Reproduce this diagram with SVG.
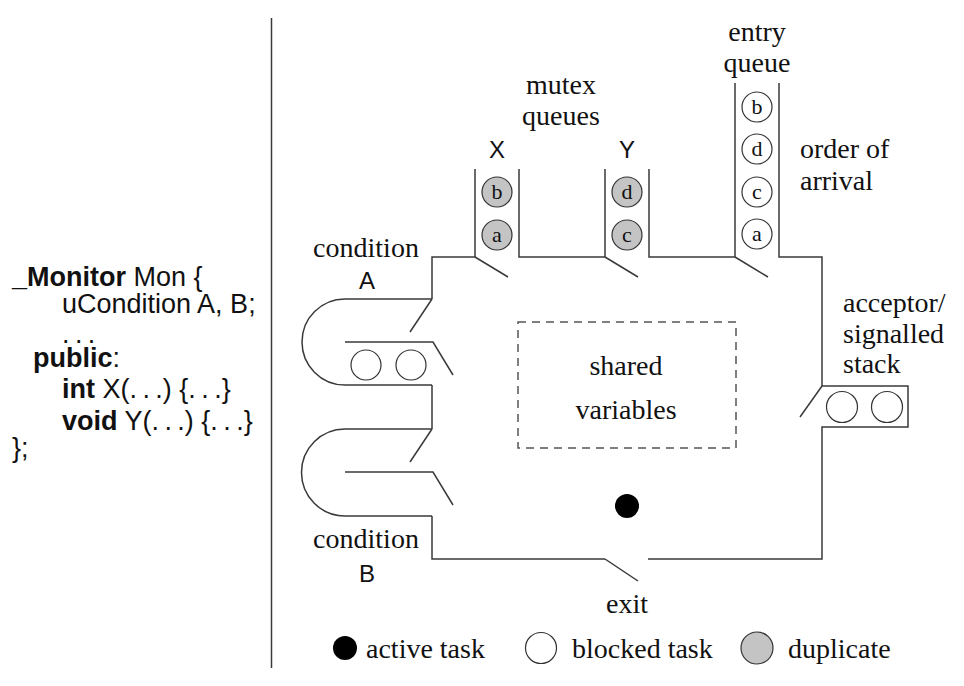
<svg xmlns="http://www.w3.org/2000/svg" width="964" height="686" viewBox="0 0 964 686">
<style>
.ln{fill:none;stroke:#3a3a3a;stroke-width:1.5}
.dash{fill:none;stroke:#555;stroke-width:1.5;stroke-dasharray:8 6}
.wc{fill:#fff;stroke:#333;stroke-width:1.2}
.gc{fill:#c4c4c4;stroke:#333;stroke-width:1.2}
.dot{fill:#000}
.sf{font-family:"Liberation Serif","Times New Roman",serif;font-size:28px;fill:#111}
.sfc{font-family:"Liberation Serif","Times New Roman",serif;font-size:22px;fill:#111;text-anchor:middle}
.ss{font-family:"Liberation Sans",Arial,sans-serif;font-size:24px;fill:#111}
.code{font-family:"Liberation Sans",Arial,sans-serif;font-size:27px;fill:#111}
.b{font-weight:bold}
.mid{text-anchor:middle}
</style>
<rect width="964" height="686" fill="#fff"/>
<line x1="271.5" y1="18" x2="271.5" y2="668" class="ln"/>

<g id="code">
<text class="code" x="12" y="286"><tspan class="b">_Monitor</tspan> Mon {</text>
<text class="code" x="62" y="313">uCondition A, B;</text>
<text class="code" x="62" y="343">.&#8201;.&#8201;.</text>
<text class="code" x="33" y="367"><tspan class="b">public</tspan>:</text>
<text class="code" x="62" y="398"><tspan class="b">int</tspan> X(.&#8201;.&#8201;.) {.&#8201;.&#8201;.}</text>
<text class="code" x="62" y="430"><tspan class="b">void</tspan> Y(.&#8201;.&#8201;.) {.&#8201;.&#8201;.}</text>
<text class="code" x="12" y="457">};</text>
</g>

<g id="monitor-walls">
<path class="ln" d="M432,299 V257 H475 V169 M519,169 V257 H605 V169 M649,169 V257 H735 V83 M779,83 V257 H822 V386 H908 V427 H822 V559 H648 M605,559 H432 V516 M432,429 V385"/>
</g>

<g id="connectors">
<line class="ln" x1="475" y1="257" x2="508" y2="277"/>
<line class="ln" x1="605" y1="257" x2="638" y2="277"/>
<line class="ln" x1="735" y1="257" x2="768" y2="277"/>
<line class="ln" x1="822" y1="386" x2="800" y2="417"/>
<line class="ln" x1="605" y1="559" x2="638" y2="581"/>
<line class="ln" x1="432" y1="299" x2="410" y2="332"/>
<line class="ln" x1="432" y1="429" x2="410" y2="462"/>
</g>

<g id="condition-A">
<path class="ln" d="M432,299 H345 A43,43 0 0 0 345,385 H432"/>
<path class="ln" d="M345,342 H433 L453,375"/>
<circle class="wc" cx="366" cy="365" r="15"/>
<circle class="wc" cx="411" cy="365" r="15"/>
<text class="sf mid" x="366" y="257">condition</text>
<text class="ss mid" x="367" y="289">A</text>
</g>

<g id="condition-B">
<path class="ln" d="M432,429 H345 A43.5,43.5 0 0 0 345,516 H432"/>
<path class="ln" d="M345,472 H433 L453,505"/>
<text class="sf mid" x="366" y="548">condition</text>
<text class="ss mid" x="367" y="582">B</text>
</g>

<g id="mutex-X">
<circle class="gc" cx="497" cy="192" r="15"/>
<text class="sfc" x="497" y="199">b</text>
<circle class="gc" cx="497" cy="235" r="15"/>
<text class="sfc" x="497" y="242">a</text>
<text class="ss mid" x="497" y="158">X</text>
</g>

<g id="mutex-Y">
<circle class="gc" cx="627" cy="192" r="15"/>
<text class="sfc" x="627" y="199">d</text>
<circle class="gc" cx="627" cy="235" r="15"/>
<text class="sfc" x="627" y="242">c</text>
<text class="ss mid" x="627" y="158">Y</text>
</g>

<g id="mutex-label">
<text class="sf mid" x="561" y="94">mutex</text>
<text class="sf mid" x="561" y="125">queues</text>
</g>

<g id="entry-queue">
<text class="sf mid" x="757" y="41">entry</text>
<text class="sf mid" x="757" y="72">queue</text>
<circle class="wc" cx="757" cy="107" r="15"/>
<text class="sfc" x="757" y="114">b</text>
<circle class="wc" cx="757" cy="149" r="15"/>
<text class="sfc" x="757" y="156">d</text>
<circle class="wc" cx="757" cy="192" r="15"/>
<text class="sfc" x="757" y="199">c</text>
<circle class="wc" cx="757" cy="234" r="15"/>
<text class="sfc" x="757" y="241">a</text>
<text class="sf" x="800" y="158">order of</text>
<text class="sf" x="800" y="190">arrival</text>
</g>

<g id="acceptor-stack">
<circle class="wc" cx="842" cy="407" r="15.5"/>
<circle class="wc" cx="887" cy="407" r="15.5"/>
<text class="sf" x="843" y="312">acceptor/</text>
<text class="sf" x="843" y="343">signalled</text>
<text class="sf" x="843" y="373">stack</text>
</g>

<g id="shared-variables">
<rect class="dash" x="518" y="322" width="218" height="126"/>
<text class="sf mid" x="626" y="375">shared</text>
<text class="sf mid" x="626" y="419">variables</text>
</g>

<g id="active">
<circle class="dot" cx="627" cy="506" r="12"/>
</g>

<g id="exit">
<text class="sf mid" x="627" y="613">exit</text>
</g>

<g id="legend">
<circle class="dot" cx="345" cy="648" r="12"/>
<text class="sf" x="366" y="658">active task</text>
<circle class="wc" cx="541" cy="648" r="15.5"/>
<text class="sf" x="572" y="658">blocked task</text>
<circle class="gc" cx="757" cy="648" r="16"/>
<text class="sf" x="788" y="658">duplicate</text>
</g>
</svg>
